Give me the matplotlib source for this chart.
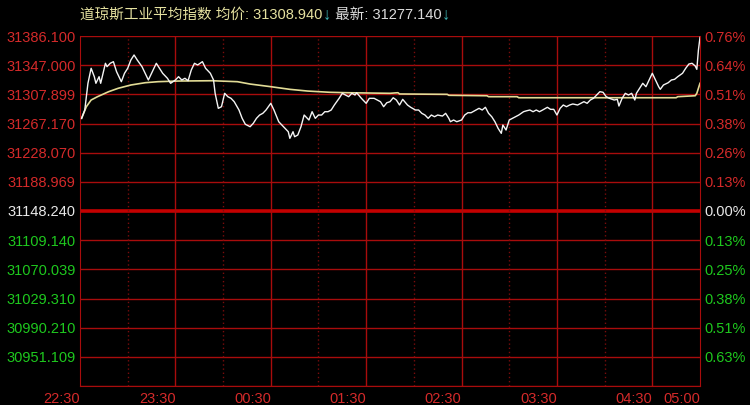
import matplotlib.pyplot as plt

plt.rcParams['font.family'] = ['Liberation Sans', 'Noto Sans CJK SC', 'DejaVu Sans']

# minutes after 22:30 and index price
minutes = [1, 3, 5, 7, 9, 10, 12, 13, 16, 17,
           19, 21, 23, 26, 28, 30, 32, 34, 36, 39,
           41, 43, 45, 47, 48, 50, 52, 55, 57, 60,
           62, 64, 66, 68, 70, 72, 74, 77, 79, 82,
           84, 85, 87, 89, 91, 93, 95, 97, 100, 102,
           104, 107, 109, 111, 113, 115, 117, 120, 122, 125,
           127, 129, 131, 132, 134, 135, 137, 139, 141, 142,
           144, 146, 148, 150, 152, 154, 156, 158, 160, 163,
           165, 167, 169, 171, 173, 174, 177, 180, 182, 185,
           187, 189, 191, 193, 195, 197, 199, 201, 203, 206,
           208, 211, 213, 215, 217, 219, 221, 223, 225, 228,
           230, 232, 233, 235, 237, 240, 242, 244, 246, 249,
           251, 253, 255, 257, 259, 261, 263, 265, 266, 268,
           270, 272, 274, 276, 279, 281, 283, 285, 287, 289,
           291, 294, 296, 298, 300, 302, 304, 306, 308, 310,
           313, 315, 317, 319, 321, 323, 325, 327, 329, 331,
           333, 336, 338, 339, 341, 343, 345, 347, 349, 350,
           352, 354, 356, 358, 360, 362, 364, 365, 367, 370,
           372, 374, 376, 379, 381, 383, 385, 387, 388, 389,
           390]
prices = [31274.2, 31285.5, 31321.8, 31342.2, 31330.8, 31321.8, 31330.8, 31321.8, 31349.0, 31344.4,
          31349.0, 31351.2, 31337.6, 31324.0, 31335.4, 31342.2, 31353.5, 31360.3, 31353.5, 31344.4,
          31335.4, 31326.3, 31335.4, 31344.4, 31349.0, 31342.2, 31335.4, 31328.6, 31321.8, 31326.3,
          31330.8, 31326.3, 31328.6, 31325.3, 31339.9, 31349.0, 31346.7, 31351.2, 31342.2, 31335.4,
          31326.3, 31308.2, 31287.8, 31290.0, 31308.2, 31303.6, 31301.4, 31296.8, 31285.5, 31274.2,
          31266.1, 31262.8, 31267.4, 31274.2, 31278.7, 31281.0, 31285.5, 31294.6, 31285.5, 31269.6,
          31265.1, 31260.6, 31256.0, 31247.0, 31256.0, 31249.2, 31251.5, 31262.8, 31278.7, 31276.4,
          31271.9, 31283.2, 31274.2, 31278.7, 31278.7, 31283.2, 31283.2, 31285.5, 31292.3, 31301.4,
          31308.2, 31305.9, 31303.6, 31308.2, 31305.9, 31309.0, 31301.4, 31294.6, 31301.4, 31301.4,
          31299.1, 31296.8, 31290.0, 31295.4, 31296.8, 31302.2, 31299.1, 31292.3, 31300.0, 31292.3,
          31289.2, 31285.5, 31285.5, 31281.0, 31278.7, 31274.2, 31278.7, 31276.4, 31278.7, 31277.3,
          31281.0, 31274.2, 31269.6, 31271.9, 31269.6, 31271.9, 31278.7, 31281.8, 31281.8, 31285.5,
          31287.8, 31285.5, 31289.2, 31281.0, 31276.4, 31269.6, 31260.6, 31253.8, 31265.1, 31258.3,
          31271.9, 31274.2, 31276.4, 31278.7, 31283.2, 31284.5, 31285.5, 31283.2, 31285.5, 31283.2,
          31285.5, 31289.2, 31286.4, 31286.4, 31278.7, 31287.8, 31292.3, 31290.0, 31292.3, 31293.7,
          31292.3, 31294.6, 31296.8, 31294.6, 31299.1, 31301.4, 31305.9, 31310.4, 31309.6, 31303.6,
          31301.4, 31299.1, 31300.0, 31290.9, 31301.4, 31308.2, 31305.9, 31308.2, 31299.1, 31308.2,
          31315.0, 31321.8, 31317.2, 31326.3, 31335.4, 31326.3, 31317.2, 31313.6, 31319.5, 31322.6,
          31326.3, 31327.2, 31330.8, 31335.4, 31342.2, 31348.0, 31349.0, 31345.3, 31340.8, 31367.0,
          31384.3]

# average price line
avg_minutes = [1, 4, 7, 11, 18, 24, 32, 41, 49, 62, 83, 99, 107, 120, 132, 143, 157, 168,
               195, 200, 201, 231, 232, 256, 257, 275, 276, 375, 376, 387, 388, 390]
avg_prices = [31274.2, 31290.0, 31299.1, 31303.6, 31310.4, 31315.0, 31319.5, 31322.6, 31324.0,
              31324.9, 31325.3, 31324.0, 31320.8, 31317.2, 31313.6, 31311.3, 31309.6, 31309.0,
              31308.2, 31309.0, 31307.3, 31306.8, 31305.5, 31304.9, 31303.6, 31303.6, 31302.2,
              31302.2, 31303.6, 31304.9, 31308.2, 31321.8]

prev_close = 31148.24
step = 39.643
left_labels = ['31386.100', '31347.000', '31307.899', '31267.170', '31228.070', '31188.969',
               '31148.240', '31109.140', '31070.039', '31029.310', '30990.210', '30951.109', '']
right_labels = ['0.76%', '0.64%', '0.51%', '0.38%', '0.26%', '0.13%', '0.00%',
                '0.13%', '0.25%', '0.38%', '0.51%', '0.63%', '']
time_ticks = [0, 60, 120, 180, 240, 300, 360, 390]
time_labels = ['22:30', '23:30', '00:30', '01:30', '02:30', '03:30', '04:30', '05:00']

RED = '#d42a2a'
GREEN = '#1ec81e'
WHITE = '#e8e8e8'
GRID = '#a80c0c'

levels = [prev_close + step * k for k in range(6, -7, -1)]


def label_color(lv):
    if lv > prev_close + 1:
        return RED
    if lv < prev_close - 1:
        return GREEN
    return WHITE


fig = plt.figure(figsize=(7.5, 4.05), dpi=100, facecolor='black')
ax = fig.add_axes([80 / 750, 1 - 386 / 405, 620 / 750, 350 / 405], facecolor='black')

for lv in levels:
    if abs(lv - prev_close) < 1:
        ax.axhline(lv, color='#c40000', lw=2.6, zorder=1)
    else:
        ax.axhline(lv, color=GRID, lw=1, zorder=1)
for t in range(60, 390, 60):
    ax.axvline(t, color=GRID, lw=1, zorder=1)
for t in range(30, 390, 60):
    ax.axvline(t, color='#7a0c0c', lw=1, ls=(0, (1, 2)), zorder=1)

ax.plot(avg_minutes, avg_prices, color='#e2dc96', lw=1.2, zorder=2)
ax.plot(minutes, prices, color='#f4f4f4', lw=1.0, zorder=3)

ax.set_xlim(0, 390)
ax.set_ylim(levels[-1], levels[0])
for s in ['left', 'right', 'bottom']:
    ax.spines[s].set_color(GRID)
ax.spines['top'].set_visible(False)

ax.set_yticks(levels)
ax.set_yticklabels(left_labels)
ax.tick_params(axis='y', length=0, pad=3, labelsize=10.5)
for lab, lv in zip(ax.get_yticklabels(), levels):
    lab.set_color(label_color(lv))

ax.set_xticks(time_ticks)
ax.set_xticklabels(time_labels)
ax.tick_params(axis='x', length=0, pad=4, labelsize=10.5, colors=RED)
for lab in ax.get_xticklabels():
    lab.set_ha('right')

ax2 = ax.twinx()
ax2.set_ylim(ax.get_ylim())
ax2.set_yticks(levels)
ax2.set_yticklabels(right_labels)
ax2.tick_params(axis='y', length=0, pad=3, labelsize=10.5)
for lab, lv in zip(ax2.get_yticklabels(), levels):
    lab.set_color(label_color(lv))
for s in ['left', 'right', 'bottom', 'top']:
    ax2.spines[s].set_visible(False)

# title made of coloured pieces placed one after another
pieces = [('道琼斯工业平均指数 均价: 31308.940', '#e6e2a0', 10.5),
          ('↓', '#3cb4b4', 12),
          (' 最新: 31277.140', '#dcdcdc', 10.5),
          ('↓', '#3cb4b4', 12)]
title_y = 1 - 15 / 405
fig.canvas.draw()
r = fig.canvas.get_renderer()
x_px = 80
for txt, col, size in pieces:
    t = fig.text(x_px / 750, title_y, txt, color=col, fontsize=size,
                 fontweight='bold' if txt == '↓' else 'normal', va='center', ha='left')
    x_px = t.get_window_extent(r).x1

fig.savefig('out.png', dpi=100, facecolor='black')
